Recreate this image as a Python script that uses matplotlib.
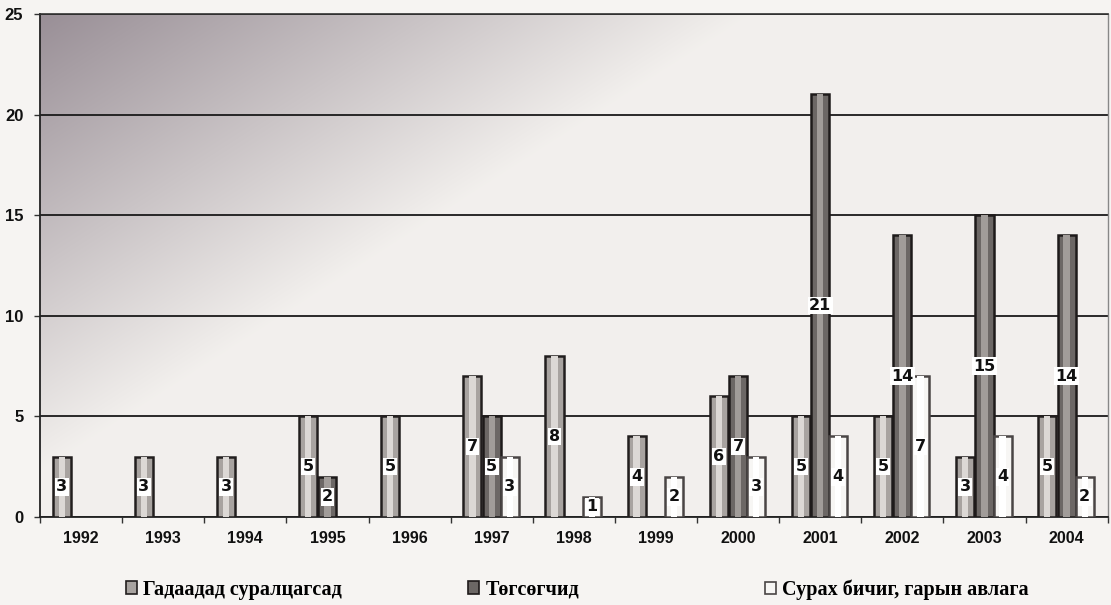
import numpy as np
import matplotlib
matplotlib.use("Agg")
import matplotlib.pyplot as plt
from matplotlib.patches import Rectangle

years = ["1992", "1993", "1994", "1995", "1996", "1997", "1998",
         "1999", "2000", "2001", "2002", "2003", "2004"]
abroad = [3, 3, 3, 5, 5, 7, 8, 4, 6, 5, 5, 3, 5]          # Гадаадад суралцагсад
graduates = [0, 0, 0, 2, 0, 5, 0, 0, 7, 21, 14, 15, 14]   # Төгсөгчид
textbooks = [0, 0, 0, 0, 0, 3, 1, 2, 3, 4, 7, 4, 2]       # Сурах бичиг, гарын авлага
series_names = ["Гадаадад суралцагсад", "Төгсөгчид", "Сурах бичиг, гарын авлага"]
yticks = [0, 5, 10, 15, 20, 25]

fig = plt.figure(figsize=(11.11, 6.05), dpi=100)
fig.patch.set_facecolor("#f6f4f2")
ax = fig.add_axes([0.036, 0.1455, 0.961, 0.8315])

n = len(years)
x = np.arange(n)
ax.set_xlim(-0.5, n - 0.5)
ax.set_ylim(0, 25)

# textured background (decorative gradient like the scanned print)
gx, gy = np.meshgrid(np.linspace(0, 1, 300), np.linspace(1, 0, 200))
d = np.clip(1.0 - (gx * 1.5 + (1 - gy) * 1.1), 0, 1)
base = np.array([0.95, 0.94, 0.93])
dark = np.array([0.60, 0.56, 0.59])
img = base[None, None, :] * (1 - d[..., None]) + dark[None, None, :] * d[..., None]
ax.imshow(img, extent=(-0.5, n - 0.5, 0, 25), aspect="auto", zorder=0, interpolation="bilinear")

w = 0.22
offs = [-0.235, 0.0, 0.22]
vals = [abroad, graduates, textbooks]
faces = ["#a8a3a0", "#6c6765", "#f7f6f4"]
edges = ["#221e1e", "#1e1a1a", "#4a4545"]
centers = ["#dcd8d5", "#a19c99", "#ffffff"]

for i, (v, fc, ec, cc) in enumerate(zip(vals, faces, edges, centers)):
    xs = x + offs[i]
    vv = np.array(v, dtype=float)
    m = vv > 0
    ax.bar(xs[m], vv[m], width=w, color=fc, edgecolor=ec, linewidth=1.8, zorder=3)
    ax.bar(xs[m], vv[m], width=w * 0.35, color=cc, linewidth=0, zorder=3.5)
    for xi, vi in zip(xs[m], vv[m]):
        ax.text(xi, vi / 2.0, str(int(vi)), ha="center", va="center",
                fontsize=11.5, fontweight="bold", family="DejaVu Sans",
                color="#111111", zorder=5,
                bbox=dict(boxstyle="square,pad=0.08", fc="white", ec="none"))

ax.set_yticks(yticks)
ax.yaxis.grid(True, color="#1a1a1a", linewidth=1.3, zorder=1)
ax.set_axisbelow(True)
ax.set_xticks(x)
ax.set_xticklabels(years)
ax.set_xticks(np.arange(-0.5, n, 1.0), minor=True)
ax.tick_params(axis="x", which="major", length=0, pad=10)
ax.tick_params(axis="x", which="minor", length=4, width=1, color="#333333", direction="out")
ax.tick_params(axis="y", length=4, width=1, color="#333333", pad=8)
for lab in ax.get_xticklabels():
    lab.set_family("Liberation Sans")
    lab.set_fontweight("bold")
    lab.set_fontsize(11.5)
    lab.set_color("#111111")
for lab in ax.get_yticklabels():
    lab.set_family("Liberation Sans")
    lab.set_fontweight("bold")
    lab.set_fontsize(12)
    lab.set_color("#111111")

ax.spines["left"].set_color("#222222")
ax.spines["left"].set_linewidth(1.3)
ax.spines["bottom"].set_color("#222222")
ax.spines["bottom"].set_linewidth(1.3)
ax.spines["top"].set_color("#333333")
ax.spines["top"].set_linewidth(1.2)
ax.spines["right"].set_color("#888888")
ax.spines["right"].set_linewidth(1.0)

# legend entries placed individually
leg_x = [0.097, 0.405, 0.672]
for i in range(3):
    h = Rectangle((0, 0), 1, 1, fc=faces[i], ec=edges[i], lw=1.2)
    fig.legend([h], [series_names[i]], loc="center left",
               bbox_to_anchor=(leg_x[i], 0.025), frameon=False,
               handlelength=0.55, handleheight=0.6, handletextpad=0.3,
               prop=dict(family="Liberation Serif", weight="bold", size=14.5))

fig.savefig("out.png", dpi=100, facecolor=fig.get_facecolor())
